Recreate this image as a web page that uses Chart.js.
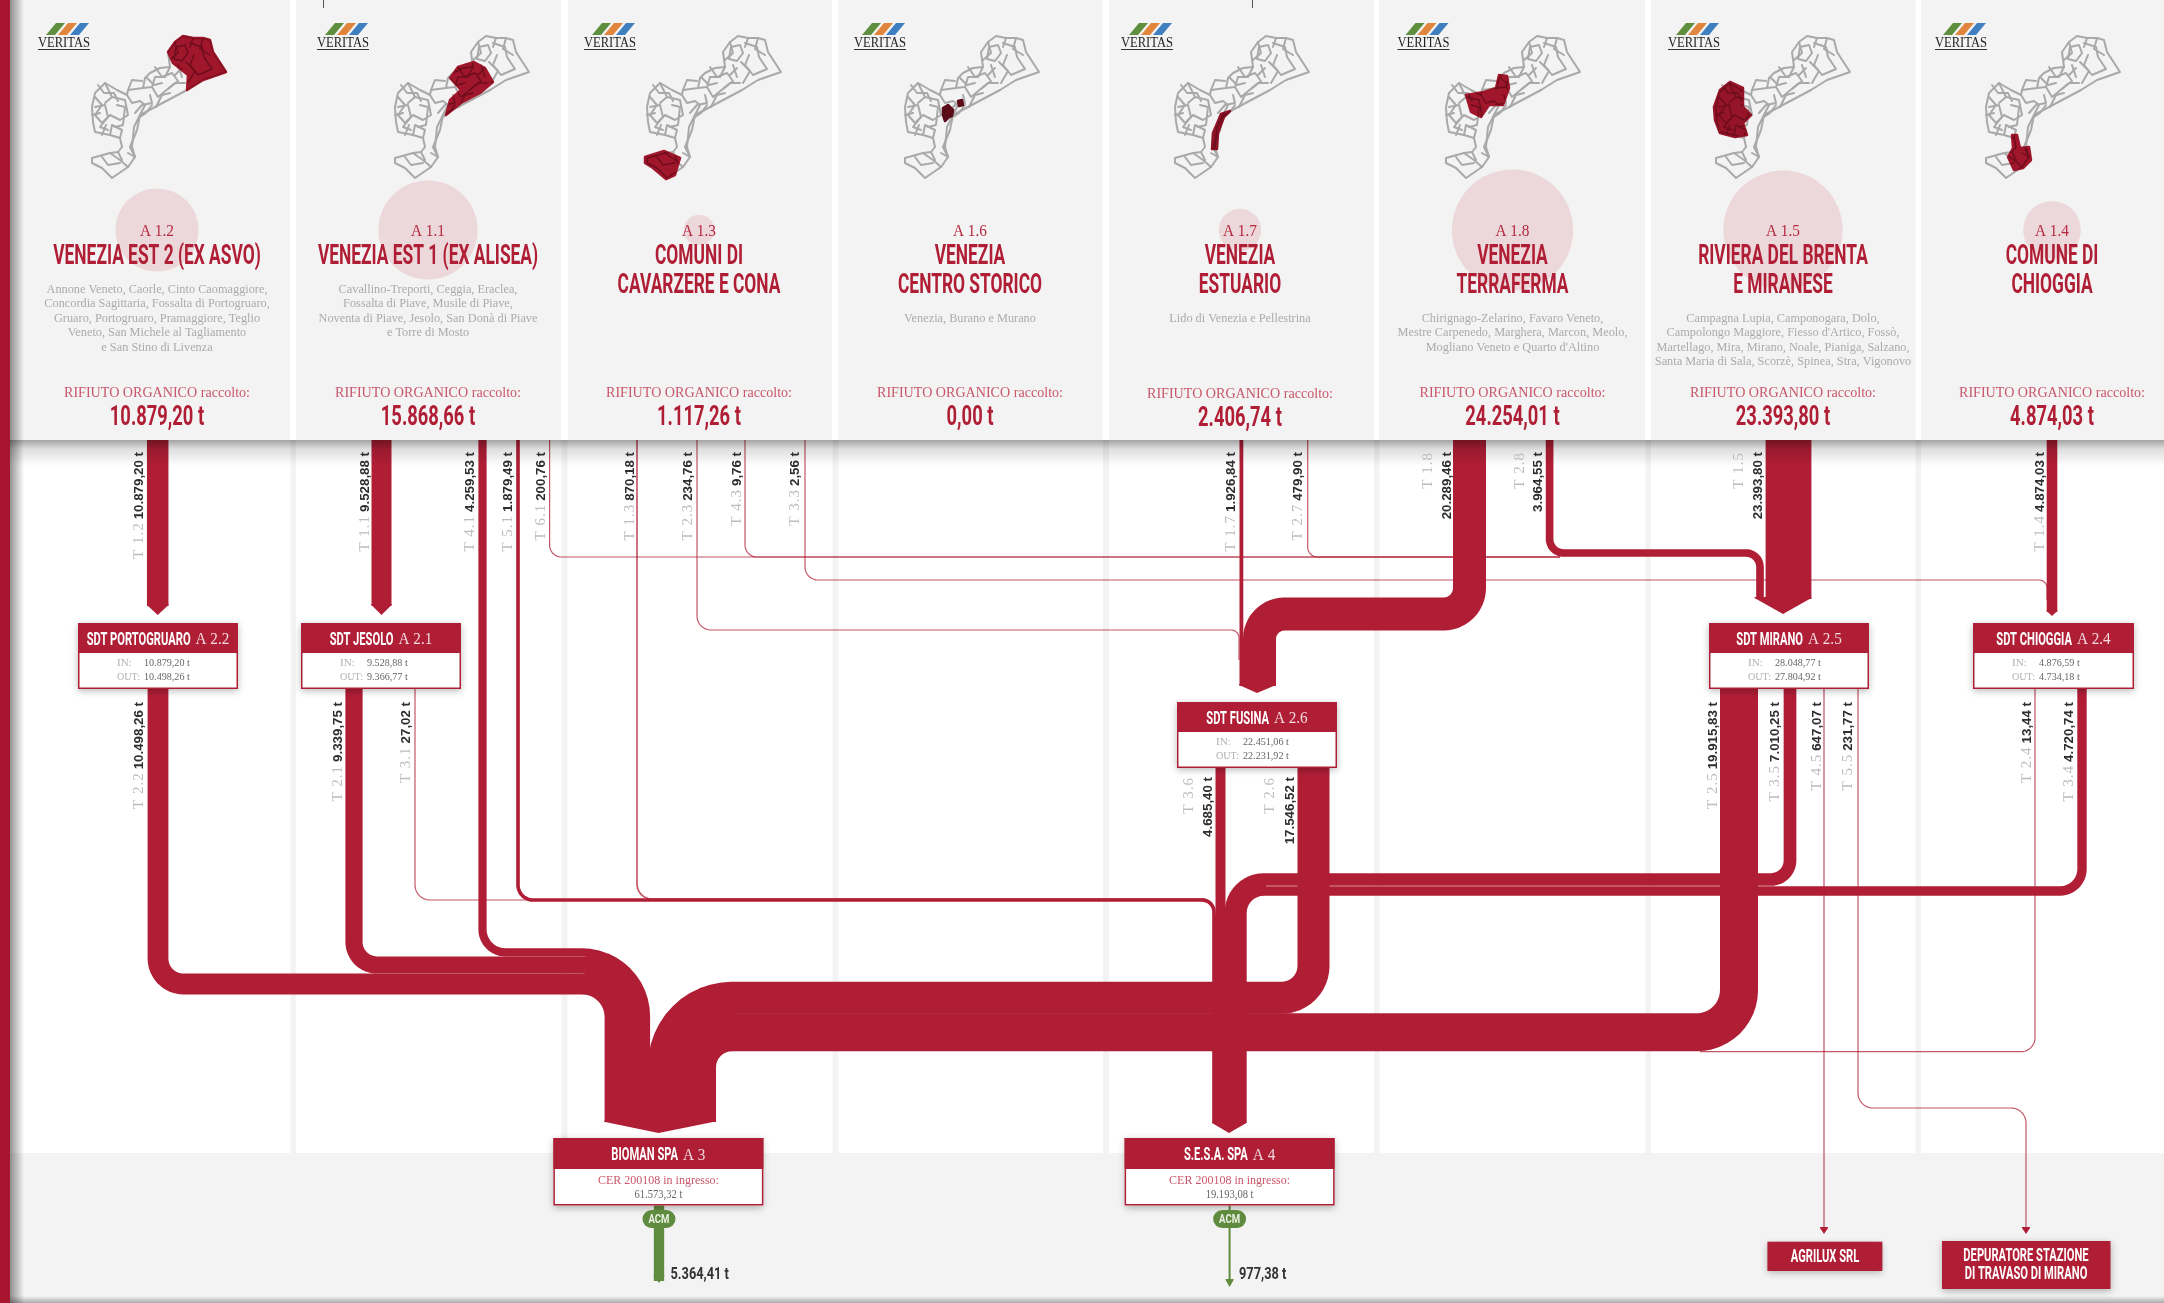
<!DOCTYPE html>
<html lang="it">
<head>
<meta charset="utf-8">
<title>Rifiuto organico - flussi</title>
<script src="https://cdn.jsdelivr.net/npm/chart.js@4/dist/chart.umd.js"></script>
<style>
  html, body { margin: 0; padding: 0; background: #fff; overflow: hidden; }
  canvas { display: block; }
</style>
</head>
<body>
<canvas id="flows" width="2164" height="1303"></canvas>
<script>
// ---- data ----
const areaCodes  = ['A 1.2', 'A 1.1', 'A 1.3', 'A 1.6', 'A 1.7', 'A 1.8', 'A 1.5', 'A 1.4']
const areaTitles = [
  ['VENEZIA EST 2 (EX ASVO)'],
  ['VENEZIA EST 1 (EX ALISEA)'],
  ['COMUNI DI', 'CAVARZERE E CONA'],
  ['VENEZIA', 'CENTRO STORICO'],
  ['VENEZIA', 'ESTUARIO'],
  ['VENEZIA', 'TERRAFERMA'],
  ['RIVIERA DEL BRENTA', 'E MIRANESE'],
  ['COMUNE DI', 'CHIOGGIA'],
]
const areaTowns = [
  ['Annone Veneto, Caorle, Cinto Caomaggiore,', 'Concordia Sagittaria, Fossalta di Portogruaro,', 'Gruaro, Portogruaro, Pramaggiore, Teglio', 'Veneto, San Michele al Tagliamento', 'e San Stino di Livenza'],
  ['Cavallino-Treporti, Ceggia, Eraclea,', 'Fossalta di Piave, Musile di Piave,', 'Noventa di Piave, Jesolo, San Donà di Piave', 'e Torre di Mosto'],
  [],
  ['Venezia, Burano e Murano'],
  ['Lido di Venezia e Pellestrina'],
  ['Chirignago-Zelarino, Favaro Veneto,', 'Mestre Carpenedo, Marghera, Marcon, Meolo,', 'Mogliano Veneto e Quarto d\'Altino'],
  ['Campagna Lupia, Camponogara, Dolo,', 'Campolongo Maggiore, Fiesso d\'Artico, Fossò,', 'Martellago, Mira, Mirano, Noale, Pianiga, Salzano,', 'Santa Maria di Sala, Scorzè, Spinea, Stra, Vigonovo'],
  [],
]
const areaTonnes = [10879.20, 15868.66, 1117.26, 0, 2406.74, 24254.01, 23393.80, 4874.03]

const flowCodes  = ['T 1.2', 'T 1.1', 'T 4.1', 'T 5.1', 'T 6.1', 'T 1.3', 'T 2.3', 'T 4.3', 'T 3.3', 'T 1.7', 'T 2.7', 'T 1.8', 'T 2.8', 'T 1.5', 'T 1.4',
                    'T 2.2', 'T 2.1', 'T 3.1', 'T 3.6', 'T 2.6', 'T 2.5', 'T 3.5', 'T 4.5', 'T 5.5', 'T 2.4', 'T 3.4']
const flowTonnes = [10879.20, 9528.88, 4259.53, 1879.49, 200.76, 870.18, 234.76, 9.76, 2.56, 1926.84, 479.90, 20289.46, 3964.55, 23393.80, 4874.03,
                    10498.26, 9339.75, 27.02, 4685.40, 17546.52, 19915.83, 7010.25, 647.07, 231.77, 13.44, 4720.74]

const sdtNames = ['SDT PORTOGRUARO', 'SDT JESOLO', 'SDT FUSINA', 'SDT MIRANO', 'SDT CHIOGGIA']
const sdtCodes = ['A 2.2', 'A 2.1', 'A 2.6', 'A 2.5', 'A 2.4']
const sdtIn    = [10879.20, 9528.88, 22451.06, 28048.77, 4876.59]
const sdtOut   = [10498.26, 9366.77, 22231.92, 27804.92, 4734.18]

const plantNames  = ['BIOMAN SPA', 'S.E.S.A. SPA']
const plantCodes  = ['A 3', 'A 4']
const plantTonnes = [61573.32, 19193.08]
const acmTonnes   = [5364.41, 977.38]

// ---- layout, in the px space of the picture ----
const RED = '#b01e35'
const GREEN = '#5f8b3f'
const TONNE_PX = 0.00193
const NARROW = 0.62
const NO_FAST_PATH = [5000, 1]  // keeps chart.js off its fast line path, which retraces vertical runs

const fmt = (v, dec = 2) => {
  const [i, d] = v.toFixed(dec).split('.')
  return i.replace(/\B(?=(\d{3})+$)/g, '.') + ',' + d
}

const panels  = [[10, 290], [296, 561], [568, 832], [838.5, 1102.6], [1109, 1374], [1379, 1645], [1651, 1915.6], [1921, 2164]]
const panelCx = [157, 428, 699, 970, 1240, 1512.5, 1783, 2052]
const mapX    = [90, 393, 645, 903, 1173, 1444, 1714, 1984]
const logoX   = [38, 317, 584, 854, 1121, 1397.5, 1668, 1935]
const stripes = [[290.5, 296], [561.5, 567.5], [832.5, 838.5], [1103, 1109], [1374, 1379.5], [1645.5, 1651], [1915.5, 1921]]

// route of every flow: waypoints, corner radii, label column (lx), code column (cx)
const routes = {
  'T 1.2': { pts: [[157.7, 440], [157.7, 606]], w: 21.5, lx: 143, ly: 452 },
  'T 1.1': { pts: [[381.5, 440], [381.5, 606]], w: 20, lx: 368.7, ly: 452 },
  'T 4.1': { pts: [[482.5, 440], [482.5, 952.4], [646, 952.4], [646, 1122]], r: [23, 64], lx: 473.8, ly: 452 },
  'T 5.1': { pts: [[518, 440], [518, 900], [1214, 900], [1214, 1123]], r: [15, 12], lx: 512, ly: 452 },
  'T 6.1': { pts: [[549.6, 440], [549.6, 557], [1560, 557]], r: [12], lx: 545, ly: 452 },
  'T 1.3': { pts: [[637, 440], [637, 899], [1214, 899], [1214, 1123]], r: [15, 12], lx: 633.6, ly: 452 },
  'T 2.3': { pts: [[697, 440], [697, 630], [1239, 630], [1239, 660]], r: [14, 8], lx: 692.4, ly: 452 },
  'T 4.3': { pts: [[745, 440], [745, 557], [1560, 557]], r: [12], lx: 740.7, ly: 452 },
  'T 3.3': { pts: [[805, 440], [805, 580], [2047, 580], [2047, 600]], r: [13, 8], lx: 799, ly: 452 },
  'T 1.7': { pts: [[1241.4, 440], [1241.4, 686]], w: 3.8, lx: 1235, ly: 452 },
  'T 2.7': { pts: [[1307.7, 440], [1307.7, 557], [1560, 557]], r: [10], lx: 1302, ly: 452 },
  'T 1.8': { pts: [[1469.5, 440], [1469.5, 614], [1259.5, 614], [1259.5, 686]], r: [26, 25], w: 33, lx: 1450.5, cx: 1431.5, ly: 452 },
  'T 2.8': { pts: [[1549.6, 440], [1549.6, 553], [1760, 553], [1760, 599]], r: [14, 14], lx: 1542.4, cx: 1523.8, ly: 452 },
  'T 1.5': { pts: [[1788.5, 440], [1788.5, 599]], w: 45.8, lx: 1762, cx: 1743, ly: 452 },
  'T 1.4': { pts: [[2052, 440], [2052, 612]], w: 10.6, lx: 2044, ly: 452 },
  'T 2.2': { pts: [[158, 689], [158, 984], [615, 984], [615, 1122]], r: [25.5, 33], w: 20.8, lx: 143, ly: 702 },
  'T 2.1': { pts: [[354, 689], [354, 965], [634, 965], [634, 1122]], r: [23, 52], w: 17.2, lx: 342, ly: 702 },
  'T 3.1': { pts: [[415, 689], [415, 900], [530, 900]], r: [15], lx: 409.5, ly: 702 },
  'T 3.6': { pts: [[1220.5, 767], [1220.5, 1123]], w: 10, lx: 1212, cx: 1193, ly: 777 },
  'T 2.6': { pts: [[1313.5, 767], [1313.5, 997.8], [664, 997.8], [664, 1122]], r: [32, 68], w: 32, lx: 1294, cx: 1274, ly: 777 },
  'T 2.5': { pts: [[1739, 689], [1739, 1032.2], [697, 1032.2], [697, 1122]], r: [42, 35], w: 38, lx: 1717, ly: 702 },
  'T 3.5': { pts: [[1790, 689], [1790, 879.5], [1231, 879.5], [1231, 1123]], r: [19, 33], w: 12.7, lx: 1779, ly: 702 },
  'T 4.5': { pts: [[1824, 689], [1824, 1230]], lx: 1821, ly: 702 },
  'T 5.5': { pts: [[1858, 689], [1858, 1108], [2026, 1108], [2026, 1230]], r: [15, 15], lx: 1852, ly: 702 },
  'T 2.4': { pts: [[2035, 689], [2035, 1051.7], [1700, 1051.7]], r: [14], lx: 2031, ly: 702 },
  'T 3.4': { pts: [[2082, 689], [2082, 891], [1242, 891], [1242, 1123]], r: [22, 22], w: 9.4, lx: 2073, ly: 702 },
}

// solid patches where lanes have merged: waypoints, radii, width
const merges = [
  { pts: [[585, 970], [625, 970], [625, 1122]], r: [40], w: 30 },
  { pts: [[735, 1015], [680, 1015], [680, 1122]], r: [40], w: 30 },
  { pts: [[1229, 915], [1229, 1123]], r: [], w: 30 },
  { pts: [[1266, 884.5], [1236, 884.5], [1236, 920]], r: [22], w: 15 },
]

// arrow tips: left, right, shoulder y, tip x, tip y
const heads = [
  [147, 168.5, 605, 157.7, 615], [371.4, 391.6, 605, 381.5, 615], [1239, 1276, 685, 1257, 693],
  [1754.5, 1811.4, 598, 1783, 614], [2046.7, 2057.3, 611, 2052, 616], [604, 714.3, 1121.7, 658.6, 1133],
  [1212, 1246.4, 1123, 1229, 1133], [1820, 1828, 1228, 1824, 1234], [2022, 2030, 1228, 2026, 1234],
]

const sdtBoxes   = [[78, 623, 160], [301, 623, 160], [1177, 702, 160], [1709, 623, 160], [1973, 623, 161]]
const plantBoxes = [[553.4, 1138, 210], [1124.6, 1138, 210]]
const acmX       = [659, 1229.6]

// base map and the red zone of every panel, px from the map corner
const mapBase = [
  [[80, 32], [78, 17], [85, 7], [93, 1], [103, 3], [113, 3], [120, 5], [123, 17], [136, 37], [113, 45], [97, 55]],
  [[86, 12], [95, 10], [98, 18], [92, 26], [84, 24], [86, 12]],
  [[100, 8], [112, 12], [114, 22], [122, 34], [108, 40], [100, 30], [104, 20]],
  [[85, 7], [88, 18], [80, 25]],
  [[103, 3], [100, 12]],
  [[113, 3], [110, 14], [120, 20]],
  [[96, 27], [105, 36], [98, 48]],
  [[88, 30], [92, 42]],
  [[80, 32], [70, 33], [60, 38], [55, 43], [53, 53], [38, 55], [37, 60], [27, 55], [15, 48], [5, 58], [2, 72], [3, 87], [5, 97], [20, 100], [30, 103], [32, 112], [28, 117], [20, 118], [2, 123], [2, 128], [12, 133], [22, 143], [38, 132], [45, 122], [42, 112], [44, 92], [50, 80], [97, 55]],
  [[15, 48], [22, 62], [35, 65], [38, 80], [30, 85], [20, 80], [12, 88], [5, 80], [12, 70], [5, 62]],
  [[20, 100], [22, 90], [32, 95], [30, 103]],
  [[5, 72], [15, 70], [18, 82], [10, 92], [18, 95]],
  [[22, 62], [15, 68]],
  [[27, 70], [35, 72], [33, 90], [25, 92]],
  [[8, 50], [14, 58], [24, 58], [28, 66]],
  [[2, 80], [10, 78]],
  [[12, 100], [16, 90]],
  [[37, 60], [42, 68], [50, 66], [55, 70], [50, 80]],
  [[38, 55], [42, 45], [52, 46]],
  [[53, 53], [62, 52], [65, 42], [75, 42], [80, 32]],
  [[65, 32], [72, 42], [82, 38], [88, 46], [78, 54]],
  [[57, 43], [64, 50], [72, 48]],
  [[92, 33], [85, 40]],
  [[62, 52], [68, 62], [85, 48], [95, 48]],
  [[45, 78], [52, 70], [62, 68], [60, 60]],
  [[66, 72], [72, 60], [80, 58]],
  [[50, 82], [56, 78], [62, 70]],
  [[50, 80], [47, 95], [40, 112], [45, 122]],
  [[20, 118], [30, 125], [38, 132]],
  [[28, 117], [32, 125]],
  [[12, 122], [18, 130], [30, 128]],
  [[38, 118], [45, 122]],
]
const mapZones = [
  [[[78, 17], [85, 7], [93, 1], [103, 3], [113, 3], [120, 5], [123, 17], [136, 37], [113, 45], [97, 55], [98, 40], [83, 28]]],
  [[[57, 43], [65, 32], [81, 27], [92, 33], [100, 47], [87, 58], [68, 68], [53, 80], [57, 65], [68, 55]]],
  [[[0, 122], [19, 116], [35, 123], [30, 140], [21, 144], [8, 133], [0, 128]]],
  [[[40, 73], [45, 70], [50, 75], [49, 81], [45, 83], [42, 86], [40, 80]], [[55, 66], [59, 65], [60, 70], [56, 71]]],
  [[[57, 76], [48, 79], [40, 98], [39, 114], [44, 114], [45, 98], [51, 82]]],
  [[[22, 60], [40, 57], [52, 53], [55, 40], [63, 41], [65, 53], [59, 70], [45, 70], [37, 82], [27, 77]]],
  [[[16, 47], [29, 53], [29, 72], [37, 80], [29, 88], [33, 100], [21, 102], [6, 98], [1, 85], [0, 72], [6, 55]]],
  [[[28, 100], [33, 100], [36, 113], [45, 112], [47, 125], [39, 133], [30, 135], [24, 122], [29, 113]]],
]
const zoneColors = ['#a0162b', '#a0162b', '#a0162b', '#5a0c18', '#8e1225', '#a0162b', '#961428', '#a0162b']

// ---- helpers ----
function roundRoute(pts, radii) {
  const out = [{ x: pts[0][0], y: pts[0][1] }]
  for (let i = 1; i < pts.length - 1; i++) {
    const [px, py] = pts[i]
    const r = radii[i - 1] || 0
    const len = (a, b) => Math.hypot(a, b) || 1
    const l1 = len(pts[i - 1][0] - px, pts[i - 1][1] - py)
    const l2 = len(pts[i + 1][0] - px, pts[i + 1][1] - py)
    const d1 = [(pts[i - 1][0] - px) / l1, (pts[i - 1][1] - py) / l1]
    const d2 = [(pts[i + 1][0] - px) / l2, (pts[i + 1][1] - py) / l2]
    const cx = px + (d1[0] + d2[0]) * r
    const cy = py + (d1[1] + d2[1]) * r
    for (let s = 0; s <= 12; s++) {
      const a = s / 12 * Math.PI / 2
      out.push({
        x: cx - d2[0] * r * Math.cos(a) - d1[0] * r * Math.sin(a),
        y: cy - d2[1] * r * Math.cos(a) - d1[1] * r * Math.sin(a),
      })
    }
  }
  const last = pts[pts.length - 1]
  out.push({ x: last[0], y: last[1] })
  return out
}

function text(ctx, str, x, y, o = {}) {
  ctx.save()
  ctx.font = o.font || '12px "Liberation Serif"'
  ctx.fillStyle = o.color || '#333'
  ctx.textBaseline = o.base || 'middle'
  ctx.textAlign = o.align || 'center'
  ctx.letterSpacing = o.spacing || '0px'
  ctx.translate(x, y)
  if (o.rot) ctx.rotate(o.rot)
  let sx = o.sx || 1
  if (o.w) sx = o.w / ctx.measureText(str).width
  ctx.scale(sx, 1)
  ctx.fillText(str, 0, 0)
  ctx.restore()
}

function poly(ctx, pts) {
  ctx.beginPath()
  pts.forEach((p, i) => i ? ctx.lineTo(p[0], p[1]) : ctx.moveTo(p[0], p[1]))
}

// ---- datasets ----
const flowDatasets = flowCodes.map((code, i) => {
  const rt = routes[code]
  const width = rt.w || Math.max(1.2, flowTonnes[i] * TONNE_PX)
  return {
    type: 'line',
    label: code,
    data: roundRoute(rt.pts, rt.r || []),
    borderColor: width < 2 ? 'rgba(176,30,53,.75)' : RED,
    borderWidth: width,
    borderCapStyle: 'butt',
    borderJoinStyle: 'round',
    borderDash: NO_FAST_PATH,
    pointRadius: 0,
    tension: 0,
    fill: false,
    clip: false,
    order: 10,
  }
})

const mergeDatasets = merges.map(m => ({
  type: 'line',
  data: roundRoute(m.pts, m.r),
  borderColor: RED,
  borderWidth: m.w,
  borderCapStyle: 'butt',
  borderDash: NO_FAST_PATH,
  pointRadius: 0,
  clip: false,
  order: 9.5,
}))

const headDataset = (h, color) => ({
  type: 'line',
  data: [{ x: h[0], y: h[2] - 1 }, { x: h[0], y: h[2] }, { x: h[3], y: h[4] }, { x: h[1], y: h[2] }, { x: h[1], y: h[2] - 1 }],
  borderWidth: 0,
  borderDash: NO_FAST_PATH,
  backgroundColor: color,
  pointRadius: 0,
  fill: 'shape',
  clip: false,
  order: 9,
})

const headDatasets = heads.map(h => headDataset(h, RED))

const acmDatasets = acmTonnes.map((t, i) => ({
  type: 'line',
  label: 'ACM',
  data: [{ x: acmX[i], y: 1205 }, { x: acmX[i], y: 1281 }],
  borderColor: GREEN,
  borderWidth: Math.max(2, t * TONNE_PX),
  borderCapStyle: 'butt',
  borderDash: NO_FAST_PATH,
  pointRadius: 0,
  clip: false,
  order: 8,
}))

const acmHeads = [[653.7, 664.3, 1276, 659, 1283], [1225.6, 1233.6, 1280, 1229.6, 1287]].map(h => headDataset(h, GREEN))

const bubbles = {
  type: 'bubble',
  label: 'raccolto',
  data: areaTonnes.map((t, i) => ({ x: panelCx[i], y: 230, r: t > 0 ? 3 + 0.37 * Math.sqrt(t) : 0 })),
  backgroundColor: '#ecd7da',
  borderWidth: 0,
  clip: false,
  order: 20,
}

// ---- page furniture ----
const backdrop = {
  id: 'backdrop',
  beforeDatasetsDraw(chart) {
    const { ctx, scales: { x, y } } = chart
    const X = v => x.getPixelForValue(v)
    const Y = v => y.getPixelForValue(v)
    ctx.save()
    ctx.fillStyle = '#fff'
    ctx.fillRect(0, 0, X(2164), Y(1303))
    ctx.fillStyle = '#f3f3f3'
    stripes.forEach(s => ctx.fillRect(X(s[0]), Y(440), s[1] - s[0], Y(1153) - Y(440)))
    ctx.fillRect(X(0), Y(1153), X(2164), Y(1303) - Y(1153))
    panels.forEach(p => ctx.fillRect(X(p[0]), Y(0), p[1] - p[0], Y(440)))
    ctx.fillStyle = '#555'
    ctx.fillRect(X(323), Y(0), 1, 8)
    ctx.fillRect(X(1252), Y(0), 1, 8)
    ctx.restore()
  },
}

function drawMap(ctx, X, Y, i) {
  const P = q => [X(mapX[i] + q[0]), Y(35 + q[1])]
  ctx.save()
  ctx.lineJoin = 'round'
  ctx.lineCap = 'round'
  ctx.strokeStyle = '#a9a9a9'
  ctx.lineWidth = 2
  mapBase.forEach(l => { poly(ctx, l.map(P)); ctx.stroke() })
  mapZones[i].forEach(z => {
    ctx.fillStyle = zoneColors[i]
    ctx.strokeStyle = zoneColors[i]
    ctx.lineWidth = 2.5
    poly(ctx, z.map(P))
    ctx.closePath()
    ctx.fill()
    ctx.stroke()
    // the municipal borders stay visible, darker, inside the zone
    ctx.save()
    poly(ctx, z.map(P))
    ctx.closePath()
    ctx.clip()
    ctx.strokeStyle = '#6d0d1c'
    ctx.lineWidth = 1.4
    mapBase.forEach(l => { poly(ctx, l.map(P)); ctx.stroke() })
    ctx.restore()
  })
  ctx.restore()
}

function drawLogo(ctx, X, Y, i) {
  const l = X(logoX[i])
  const colors = ['#5d8f3e', '#e0853b', '#3f7fc0']
  ctx.save()
  colors.forEach((c, k) => {
    const o = l + 8 + k * 12
    ctx.fillStyle = c
    poly(ctx, [[o, Y(35)], [o + 9, Y(35)], [o + 19, Y(23)], [o + 10, Y(23)]])
    ctx.fill()
  })
  ctx.fillStyle = '#333'
  ctx.fillRect(l, Y(49), 52, 1)
  ctx.restore()
  text(ctx, 'VERITAS', l + 26, Y(43), { font: '14px "Liberation Serif"', color: '#222', w: 52 })
}

function drawArea(ctx, X, Y, i) {
  const cx = X(panelCx[i])
  text(ctx, areaCodes[i], cx, Y(232), { font: '17px "Liberation Serif"', color: '#b5283f', sx: 0.9 })
  areaTitles[i].forEach((t, k) => {
    text(ctx, t, cx, Y(257 + k * 29), { font: '700 28px Roboto', color: RED, sx: NARROW })
  })
  const top = areaTitles[i].length > 1 || areaTowns[i].length === 0 ? 319 : 290
  const stepped = [0, 14, 28.5, 42.5, 57.5]
  areaTowns[i].forEach((t, k) => {
    text(ctx, t, cx, Y(top + stepped[k]), { font: '12.3px "Liberation Serif"', color: '#ababab' })
  })
  const nudge = i === 4 ? 1.5 : 0
  text(ctx, 'RIFIUTO ORGANICO raccolto:', cx, Y(393 + nudge), { font: '15px "Liberation Serif"', color: '#c9566a', w: 186 })
  text(ctx, fmt(areaTonnes[i]) + ' t', cx, Y(418 + nudge), { font: '700 27px Roboto', color: RED, sx: 0.68 })
}

function boxFrame(ctx, x, y, w, h, head) {
  ctx.save()
  ctx.shadowColor = 'rgba(0,0,0,.28)'
  ctx.shadowBlur = 7
  ctx.shadowOffsetY = 2
  ctx.fillStyle = '#fff'
  ctx.fillRect(x, y, w, h)
  ctx.shadowColor = 'transparent'
  ctx.strokeStyle = RED
  ctx.lineWidth = 1.5
  ctx.strokeRect(x + 0.75, y + 0.75, w - 1.5, h - 1.5)
  ctx.fillStyle = RED
  ctx.fillRect(x, y, w, head)
  ctx.restore()
}

function headerText(ctx, name, code, cx, y) {
  ctx.save()
  ctx.font = '700 18px Roboto'
  const nw = ctx.measureText(name).width * NARROW
  ctx.font = '16px "Liberation Serif"'
  const cw = ctx.measureText(code).width * 0.95
  ctx.restore()
  const start = cx - (nw + 5 + cw) / 2
  text(ctx, name, start, y, { font: '700 18px Roboto', color: '#fff', sx: NARROW, align: 'left' })
  text(ctx, code, start + nw + 5, y, { font: '16px "Liberation Serif"', color: '#f1d9dd', sx: 0.95, align: 'left' })
}

function drawBoxes(ctx, X, Y) {
  sdtBoxes.forEach((b, i) => {
    const [x, y, w] = [X(b[0]), Y(b[1]), b[2]]
    boxFrame(ctx, x, y, w, 66, 30)
    const cx = x + w / 2
    headerText(ctx, sdtNames[i], sdtCodes[i], cx, y + 17)
    const lx = x + 39, vx = x + 66
    text(ctx, 'IN:', lx, y + 40.5, { font: '11px "Liberation Serif"', color: '#b0b0b0', align: 'left' })
    text(ctx, fmt(sdtIn[i]) + ' t', vx, y + 40.5, { font: '11px "Liberation Serif"', color: '#666', align: 'left', sx: 0.92 })
    text(ctx, 'OUT:', lx, y + 54.5, { font: '11px "Liberation Serif"', color: '#b0b0b0', align: 'left', sx: 0.92 })
    text(ctx, fmt(sdtOut[i]) + ' t', vx, y + 54.5, { font: '11px "Liberation Serif"', color: '#666', align: 'left', sx: 0.92 })
  })
  plantBoxes.forEach((b, i) => {
    const [x, y, w] = [X(b[0]), Y(b[1]), b[2]]
    boxFrame(ctx, x, y, w, 67.5, 31)
    const cx = x + w / 2
    headerText(ctx, plantNames[i], plantCodes[i], cx, y + 17.5)
    text(ctx, 'CER 200108 in ingresso:', cx, y + 43, { font: '12px "Liberation Serif"', color: '#c9566a' })
    text(ctx, fmt(plantTonnes[i]) + ' t', cx, y + 56.5, { font: '11.5px "Liberation Serif"', color: '#666', sx: 0.92 })
  })
  // end users
  ctx.save()
  ctx.shadowColor = 'rgba(0,0,0,.28)'
  ctx.shadowBlur = 7
  ctx.shadowOffsetY = 2
  ctx.fillStyle = RED
  ctx.fillRect(X(1767.4), Y(1241.7), 115, 29.3)
  ctx.fillRect(X(1942), Y(1241), 168.5, 48)
  ctx.restore()
  text(ctx, 'AGRILUX SRL', X(1825), Y(1257), { font: '700 18px Roboto', color: '#fff', sx: NARROW })
  text(ctx, 'DEPURATORE STAZIONE', X(2026), Y(1256), { font: '700 18px Roboto', color: '#fff', sx: NARROW })
  text(ctx, 'DI TRAVASO DI MIRANO', X(2026), Y(1274), { font: '700 18px Roboto', color: '#fff', sx: NARROW })
  // recovered fractions
  acmX.forEach(ax => {
    const px = X(ax), py = Y(1219)
    ctx.save()
    ctx.fillStyle = GREEN
    ctx.beginPath()
    ctx.roundRect(px - 16.5, py - 9, 33, 18, 9)
    ctx.fill()
    ctx.restore()
    text(ctx, 'ACM', px, py + 0.5, { font: '700 12px Roboto', color: '#e9f1e2', sx: 0.8 })
  })
  text(ctx, fmt(acmTonnes[0]) + ' t', X(670.5), Y(1275), { font: '700 16px Roboto', color: '#333', sx: 0.8, align: 'left' })
  text(ctx, fmt(acmTonnes[1]) + ' t', X(1239), Y(1275), { font: '700 16px Roboto', color: '#333', sx: 0.8, align: 'left' })
}

function drawFlowLabels(ctx, X, Y) {
  const up = -Math.PI / 2
  const valFont = '700 13.3px "Liberation Sans"'
  const codeFont = '15px "Liberation Serif"'
  flowCodes.forEach((code, i) => {
    const rt = routes[code]
    const val = fmt(flowTonnes[i]) + ' t'
    text(ctx, val, X(rt.lx), Y(rt.ly), { font: valFont, color: '#2e2e2e', align: 'right', base: 'alphabetic', rot: up })
    if (rt.cx) {
      text(ctx, code, X(rt.cx), Y(rt.ly), { font: codeFont, color: '#bdbdbd', align: 'right', base: 'alphabetic', rot: up, spacing: '1px' })
    } else {
      ctx.save()
      ctx.font = valFont
      const vw = ctx.measureText(val).width
      ctx.restore()
      text(ctx, code, X(rt.lx), Y(rt.ly + vw + 3), { font: codeFont, color: '#bdbdbd', align: 'right', base: 'alphabetic', rot: up, spacing: '1px' })
    }
  })
}

const overlay = {
  id: 'overlay',
  afterDatasetsDraw(chart) {
    const { ctx, scales: { x, y } } = chart
    const X = v => x.getPixelForValue(v)
    const Y = v => y.getPixelForValue(v)
    ctx.save()
    // shadow under the panel row, over the flows
    let g = ctx.createLinearGradient(0, Y(440), 0, Y(466))
    g.addColorStop(0, 'rgba(0,0,0,.36)')
    g.addColorStop(0.35, 'rgba(0,0,0,.13)')
    g.addColorStop(1, 'rgba(0,0,0,0)')
    ctx.fillStyle = g
    ctx.fillRect(X(0), Y(440), X(2164), Y(466) - Y(440))
    // bottom edge
    g = ctx.createLinearGradient(0, Y(1296), 0, Y(1303))
    g.addColorStop(0, 'rgba(0,0,0,0)')
    g.addColorStop(1, 'rgba(0,0,0,.3)')
    ctx.fillStyle = g
    ctx.fillRect(X(0), Y(1296), X(2164), 7)
    // red spine
    g = ctx.createLinearGradient(X(10), 0, X(24), 0)
    g.addColorStop(0, 'rgba(0,0,0,.42)')
    g.addColorStop(1, 'rgba(0,0,0,0)')
    ctx.fillStyle = g
    ctx.fillRect(X(10), Y(0), 14, Y(1303))
    ctx.fillStyle = '#a8152e'
    ctx.fillRect(X(0), Y(0), 10, Y(1303))
    ctx.restore()

    areaCodes.forEach((_, i) => {
      drawMap(ctx, X, Y, i)
      drawLogo(ctx, X, Y, i)
      drawArea(ctx, X, Y, i)
    })
    drawBoxes(ctx, X, Y)
    drawFlowLabels(ctx, X, Y)
  },
}

new Chart(document.getElementById('flows'), {
  data: { datasets: [bubbles, ...flowDatasets, ...mergeDatasets, ...headDatasets, ...acmDatasets, ...acmHeads] },
  options: {
    responsive: false,
    animation: false,
    devicePixelRatio: 1,
    events: [],
    layout: { padding: 0, autoPadding: false },
    plugins: { legend: { display: false }, tooltip: { enabled: false }, title: { display: false } },
    scales: {
      x: { type: 'linear', min: 0, max: 2164, display: false },
      y: { type: 'linear', min: 0, max: 1303, reverse: true, display: false },
    },
  },
  plugins: [backdrop, overlay],
})
</script>
</body>
</html>
